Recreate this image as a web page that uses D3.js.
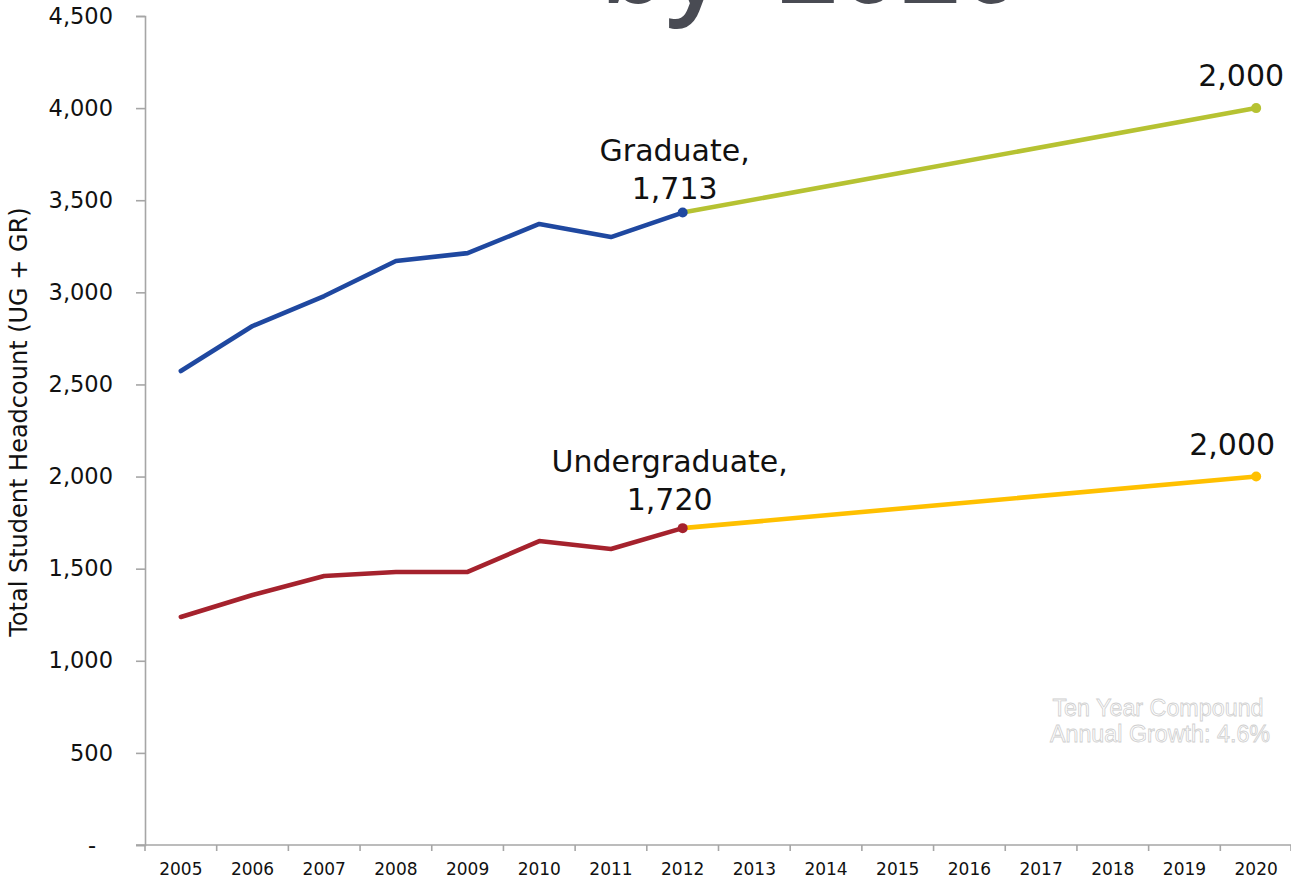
<!DOCTYPE html>
<html>
<head>
<meta charset="utf-8">
<script src="https://cdn.jsdelivr.net/npm/d3@7"></script>
<style>
  html, body { margin: 0; padding: 0; background: #fff; }
  svg { display: block; }
</style>
</head>
<body>
<svg id="chart" width="1291" height="883"></svg>
<script>
// Student headcount, actual 2005–2012 and projected to 2020
const years = d3.range(2005, 2021).map(String);
const actualYears = ["2005","2006","2007","2008","2009","2010","2011","2012"];
const totalActual = [2573, 2817, 2980, 3170, 3213, 3371, 3300, 3433];   // UG + GR
const ugActual    = [1238, 1357, 1460, 1482, 1482, 1650, 1607, 1720];
const projYears = ["2012", "2020"];
const totalProj = [3433, 4000];
const ugProj    = [1720, 2000];
const yTicks = [0, 500, 1000, 1500, 2000, 2500, 3000, 3500, 4000, 4500];
const gradNow = 1713, ugNow = 1720, gradTarget = 2000, ugTarget = 2000;

const svg = d3.select("#chart");
const plot = { left: 145, right: 1292, top: 16, bottom: 845 };

const x = d3.scaleBand().domain(years).range([plot.left, plot.right]);
const y = d3.scaleLinear().domain([0, 4500]).range([plot.bottom, plot.top]);
const cx = d => x(d) + x.bandwidth() / 2;

const axisColor = "#a6a6a6";
const fmt = d3.format(",");

// Large heading, mostly above the visible area
const heading = svg.append("g")
  .attr("font-family", "'Open Sans', sans-serif")
  .attr("font-size", 107)
  .attr("font-weight", 600)
  .attr("fill", "#494b53");
heading.append("text").attr("x", 724).attr("y", 3)
  .attr("text-anchor", "end").text("by");
heading.append("text").attr("x", 1022).attr("y", 3)
  .attr("text-anchor", "end").text("2020");

// Y axis
const yAxis = svg.append("g")
  .attr("transform", `translate(${plot.left},0)`)
  .call(d3.axisLeft(y).tickValues(yTicks).tickSize(9).tickPadding(23)
    .tickFormat(d => d === 0 ? "-" : fmt(d)));
yAxis.select(".domain").attr("stroke", axisColor).attr("stroke-width", 1.6);
yAxis.selectAll(".tick line").attr("stroke", axisColor).attr("stroke-width", 1.6);
yAxis.selectAll(".tick text")
  .attr("font-family", "'DejaVu Sans', Verdana, sans-serif")
  .attr("font-size", 22.5)
  .attr("fill", "#111");
yAxis.selectAll(".tick").filter(d => d === 0).select("text").attr("dx", -17);

// X axis: tick marks between categories, labels centred
const xAxis = svg.append("g")
  .attr("transform", `translate(0,${plot.bottom})`)
  .call(d3.axisBottom(x).tickSize(0).tickPadding(18));
xAxis.select(".domain").remove();
xAxis.selectAll(".tick text")
  .attr("font-family", "'DejaVu Sans', Verdana, sans-serif")
  .attr("font-size", 17)
  .attr("fill", "#111");
xAxis.append("line")
  .attr("x1", plot.left - 9).attr("x2", plot.right)
  .attr("stroke", axisColor).attr("stroke-width", 1.6);
xAxis.selectAll(".sep")
  .data(years.concat(["end"]))
  .join("line")
  .attr("class", "sep")
  .attr("x1", d => d === "end" ? plot.right - 1 : x(d))
  .attr("x2", d => d === "end" ? plot.right - 1 : x(d))
  .attr("y1", 0).attr("y2", 6)
  .attr("stroke", axisColor).attr("stroke-width", 1.6);

// Y axis title
svg.append("text")
  .attr("transform", "translate(27,422) rotate(-90)")
  .attr("text-anchor", "middle")
  .attr("font-family", "'DejaVu Sans', sans-serif")
  .attr("font-size", 24)
  .attr("fill", "#111")
  .text("Total Student Headcount (UG + GR)");

const line = d3.line().x(d => cx(d[0])).y(d => y(d[1]));
const series = [
  { yrs: projYears,   vals: totalProj,   color: "#b6c232" },
  { yrs: projYears,   vals: ugProj,      color: "#ffc000" },
  { yrs: actualYears, vals: totalActual, color: "#1f48a0" },
  { yrs: actualYears, vals: ugActual,    color: "#a5222d" }
];
series.forEach(s => {
  const pts = s.yrs.map((yr, i) => [yr, s.vals[i]]);
  svg.append("path")
    .attr("d", line(pts))
    .attr("fill", "none")
    .attr("stroke", s.color)
    .attr("stroke-width", 4.6)
    .attr("stroke-linejoin", "round")
    .attr("stroke-linecap", "round");
  svg.append("circle")
    .attr("cx", cx(pts[pts.length - 1][0]))
    .attr("cy", y(pts[pts.length - 1][1]))
    .attr("r", 5)
    .attr("fill", s.color);
});

// Point annotations
const labelFont = "'DejaVu Sans', Verdana, sans-serif";
function label(lines, px, py, dy0) {
  const t = svg.append("text")
    .attr("text-anchor", "middle")
    .attr("font-family", labelFont)
    .attr("font-size", 30)
    .attr("fill", "#111");
  lines.forEach((ln, i) => {
    t.append("tspan").attr("x", px).attr("y", py + dy0 + i * 38).text(ln);
  });
}
label(["Graduate,", fmt(gradNow)], cx("2012") - 8, y(totalActual[7]), -52);
label(["Undergraduate,", fmt(ugNow)], cx("2012") - 13, y(ugActual[7]), -56);
label([fmt(gradTarget)], cx("2020") - 15, y(totalProj[1]), -22);
label([fmt(ugTarget)], cx("2020") - 24, y(ugProj[1]), -22);

// Growth note (white lettering with a faint outline)
const note = svg.append("text")
  .attr("text-anchor", "middle")
  .attr("font-family", "'Liberation Sans', Arial, sans-serif")
  .attr("font-size", 23.3)
  .attr("fill", "#ffffff")
  .attr("stroke", "#cfcfcf")
  .attr("stroke-width", 0.8);
note.append("tspan").attr("x", 1158).attr("y", 716).text("Ten Year Compound");
note.append("tspan").attr("x", 1160).attr("y", 742).text("Annual Growth: 4.6%");
</script>
</body>
</html>
